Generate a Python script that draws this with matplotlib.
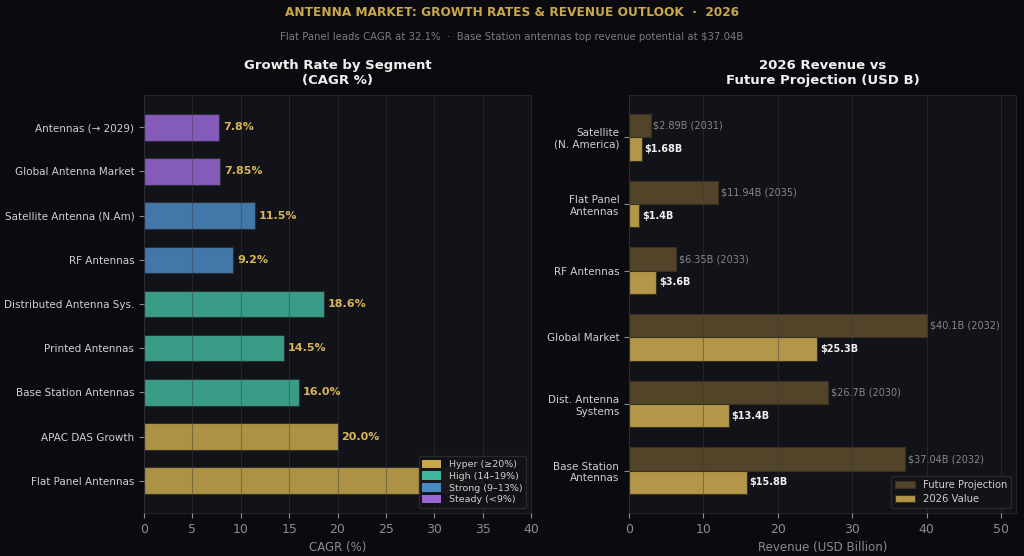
import matplotlib.pyplot as plt
import numpy as np
from matplotlib.patches import Patch

# Left panel: CAGR by segment (bottom to top)
segments = ["Flat Panel Antennas", "APAC DAS Growth", "Base Station Antennas",
            "Printed Antennas", "Distributed Antenna Sys.", "RF Antennas",
            "Satellite Antenna (N.Am)", "Global Antenna Market", "Antennas (\u2192 2029)"]
cagr = [32.1, 20.0, 16.0, 14.5, 18.6, 9.2, 11.5, 7.85, 7.8]
cagr_labels = ["32.1%", "20.0%", "16.0%", "14.5%", "18.6%", "9.2%", "11.5%", "7.85%", "7.8%"]
tiers = ["Hyper", "Hyper", "High", "High", "High", "Strong", "Strong", "Steady", "Steady"]

# Right panel: revenue (bottom to top)
markets = ["Base Station\nAntennas", "Dist. Antenna\nSystems", "Global Market",
           "RF Antennas", "Flat Panel\nAntennas", "Satellite\n(N. America)"]
rev_2026 = [15.8, 13.4, 25.3, 3.6, 1.4, 1.68]
rev_future = [37.04, 26.7, 40.1, 6.35, 11.94, 2.89]
future_years = [2032, 2030, 2032, 2033, 2035, 2031]
rev_labels = ["$15.8B", "$13.4B", "$25.3B", "$3.6B", "$1.4B", "$1.68B"]
future_labels = ["$37.04B", "$26.7B", "$40.1B", "$6.35B", "$11.94B", "$2.89B"]

tier_colors = {"Hyper": "#c9a84c", "High": "#3fb59b", "Strong": "#4a8ac4", "Steady": "#9a68d6"}
tier_names = {"Hyper": "Hyper (\u226520%)", "High": "High (14\u201319%)",
              "Strong": "Strong (9\u201313%)", "Steady": "Steady (<9%)"}

fig_bg = "#0b0b0f"
ax_bg = "#121318"
grid_c = "#3a3b46"
gold = "#d9b45a"

fig = plt.figure(figsize=(10.24, 5.56), dpi=100, facecolor=fig_bg)
ax1 = fig.add_axes([144/1024, 1-513/556, 387/1024, 418/556])
ax2 = fig.add_axes([629/1024, 1-513/556, 387/1024, 418/556])

for ax in (ax1, ax2):
    ax.set_facecolor(ax_bg)
    for s in ax.spines.values():
        s.set_color("#22232c")
        s.set_linewidth(0.8)
    ax.tick_params(axis="x", colors="#8a8a95", labelsize=9)
    ax.tick_params(axis="y", colors="#8a8a95", labelcolor="#d0d0d0", labelsize=7.5)
    ax.set_axisbelow(False)
    ax.grid(axis="x", color=grid_c, linewidth=0.8, alpha=0.45)

# Left chart
y1 = np.arange(len(segments))
cols = [tier_colors[t] for t in tiers]
ax1.barh(y1, cagr, height=0.6, color=cols, alpha=0.85, edgecolor="#2a2a30", linewidth=0.8)
for yi, v, lab in zip(y1, cagr, cagr_labels):
    ax1.text(v + 0.4, yi, lab, va="center", ha="left", color=gold, fontsize=8, fontweight="bold")
ax1.set_yticks(y1)
ax1.set_yticklabels(segments)
ax1.set_xlim(0, 40)
ax1.set_xlabel("CAGR (%)", color="#8a8a95", fontsize=8.5)
ax1.set_title("Growth Rate by Segment\n(CAGR %)", color="#f0f0f0", fontsize=9.5,
              fontweight="bold", pad=8)
handles = [Patch(facecolor=tier_colors[k], edgecolor="none", label=tier_names[k])
           for k in ["Hyper", "High", "Strong", "Steady"]]
leg = ax1.legend(handles=handles, loc="lower right", fontsize=6.8, facecolor=ax_bg,
                 edgecolor="#2a2b35", labelcolor="#d0d0d0", framealpha=0.95,
                 handlelength=2.0, handleheight=1.0, borderpad=0.4, labelspacing=0.25)
leg.set_zorder(10)

# Right chart
y2 = np.arange(len(markets))
h = 0.35
ax2.barh(y2 + h/2, rev_future, height=h, color="#514429", edgecolor="#3a3120",
         linewidth=0.8, label="Future Projection")
ax2.barh(y2 - h/2, rev_2026, height=h, color="#b4964b", edgecolor="#3a3120",
         linewidth=0.8, label="2026 Value")
for yi, v, lab, yr in zip(y2, rev_future, future_labels, future_years):
    ax2.text(v + 0.4, yi + h/2, f"{lab} ({yr})", va="center", ha="left",
             color="#85858f", fontsize=7)
for yi, v, lab in zip(y2, rev_2026, rev_labels):
    ax2.text(v + 0.4, yi - h/2, lab, va="center", ha="left",
             color="#f0f0f0", fontsize=7, fontweight="bold")
ax2.set_yticks(y2)
ax2.set_yticklabels(markets)
ax2.set_xlim(0, 52)
ax2.set_xticks([0, 10, 20, 30, 40, 50])
ax2.set_xlabel("Revenue (USD Billion)", color="#8a8a95", fontsize=8.5)
ax2.set_title("2026 Revenue vs\nFuture Projection (USD B)", color="#f0f0f0", fontsize=9.5,
              fontweight="bold", pad=8)
ax2.legend(loc="lower right", fontsize=7.2, facecolor=ax_bg, edgecolor="#2a2b35",
           labelcolor="#d0d0d0", framealpha=0.95, handlelength=2.0, labelspacing=0.4)

fig.text(0.5, 1-13/556, "ANTENNA MARKET: GROWTH RATES & REVENUE OUTLOOK  \u00b7  2026",
         ha="center", va="center", color="#c9a84c", fontsize=8.7, fontweight="bold")
fig.text(0.5, 1-37/556, "Flat Panel leads CAGR at 32.1%  \u00b7  Base Station antennas top revenue potential at $37.04B",
         ha="center", va="center", color="#7a7a85", fontsize=7.3)

fig.savefig("out.png", dpi=100, facecolor=fig_bg)
